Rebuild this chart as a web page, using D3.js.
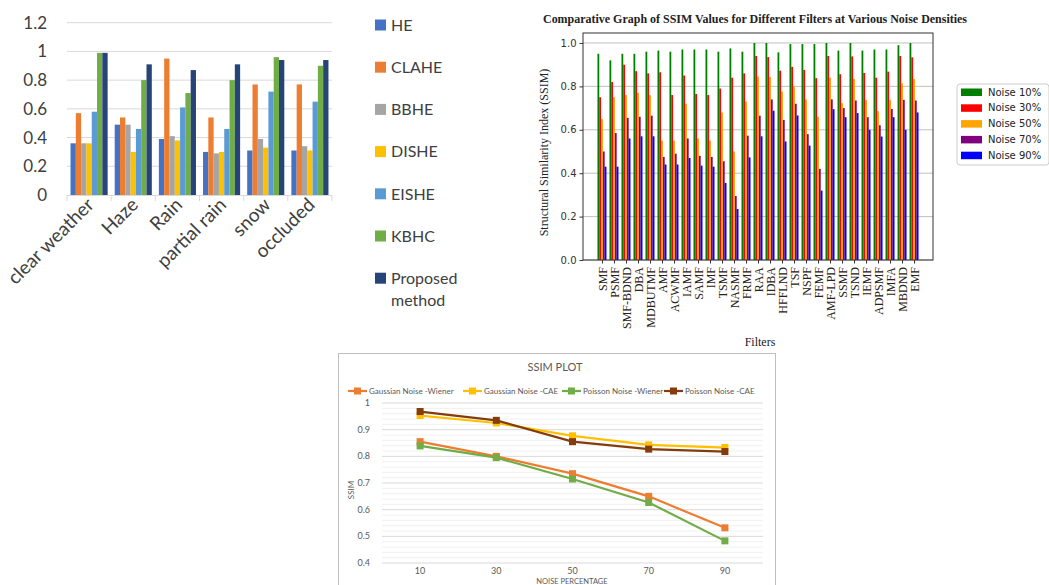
<!DOCTYPE html>
<html>
<head>
<meta charset="utf-8">
<script src="https://cdn.jsdelivr.net/npm/d3@7"></script>
<style>
  html, body { margin: 0; padding: 0; background: #fff; }
  svg { display: block; }
</style>
</head>
<body>
<svg id="chart" width="1049" height="585"></svg>
<script>
// ---- chart 1: weather conditions ----
var conditions = ["clear weather", "Haze", "Rain", "partial rain", "snow", "occluded"];
var methods = ["HE", "CLAHE", "BBHE", "DISHE", "EISHE", "KBHC", "Proposed method"];
var heVals = [0.36, 0.49, 0.39, 0.30, 0.31, 0.31];
var claheVals = [0.57, 0.54, 0.95, 0.54, 0.77, 0.77];
var bbheVals = [0.36, 0.49, 0.41, 0.29, 0.39, 0.34];
var disheVals = [0.36, 0.30, 0.38, 0.30, 0.33, 0.31];
var eisheVals = [0.58, 0.46, 0.61, 0.46, 0.72, 0.65];
var kbhcVals = [0.99, 0.80, 0.71, 0.80, 0.96, 0.90];
var proposedVals = [0.99, 0.91, 0.87, 0.91, 0.94, 0.94];
var weatherTicks = [0, 0.2, 0.4, 0.6, 0.8, 1, 1.2];

// ---- chart 2: filters at noise densities ----
var filters = ["SMF", "PSMF", "SMF-BDND", "DBA", "MDBUTMF", "AMF", "ACWMF", "IAMF", "SAMF", "IMF",
  "TSMF", "NASMF", "FRMF", "RAA", "IDBA", "HFFLND", "TSF", "NSPF", "FEMF", "AMF-LPD",
  "SSMF", "TSND", "IEMF", "ADPSMF", "IMFA", "MBDND", "EMF"];
var noiseNames = ["Noise 10%", "Noise 30%", "Noise 50%", "Noise 70%", "Noise 90%"];
var noise10 = [0.95, 0.92, 0.95, 0.95, 0.96, 0.965, 0.96, 0.97, 0.97, 0.97, 0.96, 0.975, 0.96, 1.0, 1.0, 0.957, 0.995, 0.995, 0.995, 1.0, 0.965, 1.0, 0.965, 0.97, 0.97, 0.99, 1.0];
var noise30 = [0.75, 0.82, 0.90, 0.87, 0.86, 0.865, 0.76, 0.85, 0.765, 0.76, 0.79, 0.84, 0.86, 0.94, 0.935, 0.872, 0.89, 0.876, 0.838, 0.94, 0.856, 0.938, 0.862, 0.84, 0.868, 0.94, 0.934];
var noise50 = [0.65, 0.75, 0.76, 0.77, 0.76, 0.55, 0.55, 0.72, 0.56, 0.55, 0.68, 0.50, 0.73, 0.845, 0.843, 0.776, 0.80, 0.74, 0.66, 0.84, 0.723, 0.835, 0.737, 0.686, 0.738, 0.814, 0.835];
var noise70 = [0.50, 0.585, 0.655, 0.66, 0.665, 0.475, 0.49, 0.56, 0.48, 0.475, 0.455, 0.295, 0.573, 0.665, 0.74, 0.645, 0.72, 0.58, 0.42, 0.74, 0.70, 0.735, 0.658, 0.621, 0.696, 0.738, 0.735];
var noise90 = [0.43, 0.43, 0.56, 0.57, 0.57, 0.44, 0.44, 0.47, 0.435, 0.43, 0.355, 0.235, 0.473, 0.57, 0.688, 0.546, 0.666, 0.527, 0.32, 0.695, 0.658, 0.677, 0.60, 0.569, 0.658, 0.60, 0.68];
var filterTicks = [0, 0.2, 0.4, 0.6, 0.8, 1.0];

// ---- chart 3: SSIM plot ----
var noisePct = ["10", "30", "50", "70", "90"];
var lineNames = ["Gaussian Noise -Wiener", "Gaussian Noise -CAE", "Poisson Noise -Wiener", "Poisson Noise -CAE"];
var gaussWiener = [0.855, 0.80, 0.735, 0.65, 0.532];
var gaussCAE = [0.953, 0.925, 0.877, 0.843, 0.833];
var poissonWiener = [0.839, 0.795, 0.715, 0.627, 0.483];
var poissonCAE = [0.968, 0.935, 0.855, 0.827, 0.818];
var ssimTicks = [0.4, 0.5, 0.6, 0.7, 0.8, 0.9, 1];

var svg = d3.select("#chart");

function drawWeather() {
    var colors = ["#4472C4", "#ED7D31", "#A5A5A5", "#FFC000", "#5B9BD5", "#70AD47", "#264478"];
    var series = [heVals, claheVals, bbheVals, disheVals, eisheVals, kbhcVals, proposedVals];
    var g = svg.append("g").attr("font-family", "Lato, 'Open Sans', sans-serif");
    var x0 = d3.scaleBand().domain(conditions).range([67, 332]).paddingInner(0.16).paddingOuter(0.08);
    var x1 = d3.scaleBand().domain(d3.range(methods.length)).range([0, x0.bandwidth()]);
    var y = d3.scaleLinear().domain([0, 1.2]).range([195, 22.7]);

    g.selectAll("line.grid").data(weatherTicks.slice(1)).enter().append("line")
        .attr("x1", 67).attr("x2", 332)
        .attr("y1", function (d) { return y(d); }).attr("y2", function (d) { return y(d); })
        .attr("stroke", "#d9d9d9").attr("stroke-width", 1);
    g.selectAll("text.ytick").data(weatherTicks).enter().append("text")
        .attr("x", 47).attr("y", function (d) { return y(d); }).attr("dy", "0.35em")
        .attr("text-anchor", "end").attr("font-size", 17).attr("fill", "#404040")
        .text(function (d) { return String(+d.toFixed(1)); });

    var groups = g.selectAll("g.cat").data(conditions).enter().append("g")
        .attr("transform", function (d) { return "translate(" + x0(d) + ",0)"; });
    groups.selectAll("rect").data(function (d, i) {
        return series.map(function (s, k) { return { k: k, v: s[i] }; });
    }).enter().append("rect")
        .attr("x", function (d) { return x1(d.k); })
        .attr("width", x1.bandwidth())
        .attr("y", function (d) { return y(d.v); })
        .attr("height", function (d) { return y(0) - y(d.v); })
        .attr("fill", function (d) { return colors[d.k]; });

    // baseline with ticks between categories
    g.append("line").attr("x1", 67).attr("x2", 332).attr("y1", y(0) + 0.5).attr("y2", y(0) + 0.5)
        .attr("stroke", "#d9d9d9");
    var step = (332 - 67) / conditions.length;
    g.selectAll("line.xt").data(d3.range(conditions.length + 1)).enter().append("line")
        .attr("x1", function (d) { return 67 + d * step; }).attr("x2", function (d) { return 67 + d * step; })
        .attr("y1", y(0)).attr("y2", y(0) + 6).attr("stroke", "#d9d9d9");
    g.selectAll("text.xl").data(conditions).enter().append("text")
        .attr("transform", function (d) {
            return "translate(" + (x0(d) + x0.bandwidth() / 2 + 6) + ",206) rotate(-45)";
        })
        .attr("text-anchor", "end").attr("font-size", 19).attr("fill", "#404040")
        .text(function (d) { return d; });

    // legend
    var leg = g.selectAll("g.leg").data(methods).enter().append("g")
        .attr("transform", function (d, i) { return "translate(375," + (25 + i * 42.2) + ")"; });
    leg.append("rect").attr("x", 0).attr("y", -5.5).attr("width", 11).attr("height", 11)
        .attr("fill", function (d, i) { return colors[i]; });
    leg.append("text").attr("x", 16).attr("dy", "0.36em").attr("font-size", 16).attr("fill", "#404040")
        .each(function (d) {
            var t = d3.select(this);
            var parts = d.split(" ");
            if (parts.length > 1) {
                t.append("tspan").attr("x", 16).text(parts[0]);
                t.append("tspan").attr("x", 16).attr("dy", 22).text(parts[1]);
            } else {
                t.text(d);
            }
        });
}

function drawFilters() {
    var colors = ["#008000", "#ff0000", "#ffa500", "#800080", "#0000ff"];
    var series = [noise10, noise30, noise50, noise70, noise90];
    var g = svg.append("g");
    var left = 583, right = 933, top = 33, bottom = 260;
    var x = d3.scalePoint().domain(filters).range([left, right]).padding(1.58);
    var y = d3.scaleLinear().domain([0, 1.046]).range([bottom, top]);
    var bw = x.step() * 0.15;

    g.selectAll("line.grid").data(filterTicks).enter().append("line")
        .attr("x1", left).attr("x2", right)
        .attr("y1", function (d) { return y(d); }).attr("y2", function (d) { return y(d); })
        .attr("stroke", "#b0b0b0").attr("stroke-width", 0.8);

    var groups = g.selectAll("g.f").data(filters).enter().append("g")
        .attr("transform", function (d) { return "translate(" + x(d) + ",0)"; });
    groups.selectAll("rect").data(function (d, i) {
        return series.map(function (s, k) { return { k: k, v: s[i] }; });
    }).enter().append("rect")
        .attr("x", function (d) { return (d.k - 2.5) * bw; })
        .attr("width", bw)
        .attr("y", function (d) { return y(d.v); })
        .attr("height", function (d) { return y(0) - y(d.v); })
        .attr("fill", function (d) { return colors[d.k]; });

    g.append("rect").attr("x", left).attr("y", top).attr("width", right - left).attr("height", bottom - top)
        .attr("fill", "none").attr("stroke", "#333").attr("stroke-width", 1);

    var yAxis = d3.axisLeft(y).tickValues(filterTicks).tickFormat(d3.format(".1f")).tickSize(3.5);
    g.append("g").attr("transform", "translate(" + left + ",0)").call(yAxis)
        .call(function (a) { a.select(".domain").remove(); })
        .call(function (a) {
            a.selectAll("text").attr("font-family", "'DejaVu Sans', sans-serif").attr("font-size", 10).attr("fill", "#333");
            a.selectAll("line").attr("stroke", "#333");
        });

    var xAxis = d3.axisBottom(x).tickSize(3.5);
    g.append("g").attr("transform", "translate(0," + bottom + ")").call(xAxis)
        .call(function (a) { a.select(".domain").remove(); })
        .call(function (a) {
            a.selectAll("line").attr("stroke", "#333");
            a.selectAll("text").attr("font-family", "'Liberation Serif', serif").attr("font-size", 12)
                .attr("fill", "#222").attr("text-anchor", "end")
                .attr("transform", "rotate(-90)").attr("x", -7).attr("y", 0).attr("dy", "0.35em");
        });

    g.append("text").attr("x", (left + right) / 2 + 2).attr("y", 346).attr("text-anchor", "middle")
        .attr("font-family", "'Liberation Serif', serif").attr("font-size", 12).attr("fill", "#222").text("Filters");
    g.append("text").attr("transform", "translate(548," + ((top + bottom) / 2 + 6) + ") rotate(-90)")
        .attr("text-anchor", "middle").attr("font-family", "'Liberation Serif', serif").attr("font-size", 12)
        .attr("fill", "#222").text("Structural Similarity Index (SSIM)");
    g.append("text").attr("x", 543).attr("y", 23)
        .attr("textLength", 424).attr("lengthAdjust", "spacingAndGlyphs")
        .attr("font-family", "'Liberation Serif', serif").attr("font-size", 12).attr("font-weight", "bold")
        .attr("fill", "#222").text("Comparative Graph of SSIM Values for Different Filters at Various Noise Densities");

    // legend
    var lg = g.append("g").attr("transform", "translate(957,84)");
    lg.append("rect").attr("x", 0).attr("y", 0).attr("width", 92).attr("height", 81).attr("rx", 3)
        .attr("fill", "#fff").attr("stroke", "#cccccc");
    var items = lg.selectAll("g.li").data(noiseNames).enter().append("g")
        .attr("transform", function (d, i) { return "translate(0," + (8 + i * 15.8) + ")"; });
    items.append("rect").attr("x", 4).attr("y", -3.5).attr("width", 21).attr("height", 7.5)
        .attr("fill", function (d, i) { return colors[i]; });
    items.append("text").attr("x", 31).attr("dy", "0.35em")
        .attr("font-family", "'DejaVu Sans', sans-serif").attr("font-size", 10).attr("fill", "#222")
        .text(function (d) { return d; });
}

function drawSsim() {
    var colors = ["#ED7D31", "#FFC000", "#70AD47", "#843C0C"];
    var series = [gaussWiener, gaussCAE, poissonWiener, poissonCAE];
    var g = svg.append("g").attr("font-family", "Lato, 'Open Sans', sans-serif");
    var left = 382, right = 763;
    var x = d3.scaleBand().domain(noisePct).range([left, right]);
    var y = d3.scaleLinear().domain([0.4, 1]).range([563, 403]);

    g.append("rect").attr("x", 338.5).attr("y", 353.5).attr("width", 437).attr("height", 240)
        .attr("fill", "#fff").attr("stroke", "#bfbfbf");

    // minor gridlines
    g.selectAll("line.minor").data(d3.range(0.42, 1.0, 0.02).filter(function (v) {
        return Math.abs(v * 10 - Math.round(v * 10)) > 0.01;
    })).enter().append("line")
        .attr("x1", left).attr("x2", right)
        .attr("y1", function (d) { return y(d); }).attr("y2", function (d) { return y(d); })
        .attr("stroke", "#f0f0f0");
    g.selectAll("line.major").data(ssimTicks).enter().append("line")
        .attr("x1", left).attr("x2", right)
        .attr("y1", function (d) { return y(d); }).attr("y2", function (d) { return y(d); })
        .attr("stroke", "#d9d9d9");

    g.selectAll("text.yt").data(ssimTicks).enter().append("text")
        .attr("x", 370).attr("y", function (d) { return y(d); }).attr("dy", "0.35em")
        .attr("text-anchor", "end").attr("font-size", 9).attr("fill", "#595959")
        .text(function (d) { return String(+d.toFixed(1)); });
    g.selectAll("text.xt").data(noisePct).enter().append("text")
        .attr("x", function (d) { return x(d) + x.bandwidth() / 2; }).attr("y", 574)
        .attr("text-anchor", "middle").attr("font-size", 9).attr("fill", "#595959")
        .text(function (d) { return d; });

    var line = d3.line()
        .x(function (d, i) { return x(noisePct[i]) + x.bandwidth() / 2; })
        .y(function (d) { return y(d); });
    series.forEach(function (s, k) {
        g.append("path").datum(s).attr("d", line).attr("fill", "none")
            .attr("stroke", colors[k]).attr("stroke-width", 2.2);
        g.selectAll("rect.m" + k).data(s).enter().append("rect")
            .attr("x", function (d, i) { return x(noisePct[i]) + x.bandwidth() / 2 - 3.5; })
            .attr("y", function (d) { return y(d) - 3.5; })
            .attr("width", 7).attr("height", 7).attr("fill", colors[k]);
    });

    g.append("text").attr("x", 555).attr("y", 371).attr("text-anchor", "middle")
        .attr("font-size", 11).attr("fill", "#595959").text("SSIM PLOT");
    g.append("text").attr("transform", "translate(354,490) rotate(-90)").attr("text-anchor", "middle")
        .attr("font-size", 8).attr("fill", "#595959").text("SSIM");
    g.append("text").attr("x", 572).attr("y", 584).attr("text-anchor", "middle")
        .attr("font-size", 7.5).attr("fill", "#595959").text("NOISE PERCENTAGE");

    // legend row
    var legX = [348, 463, 562, 664];
    var items = g.selectAll("g.li").data(lineNames).enter().append("g")
        .attr("transform", function (d, i) { return "translate(" + legX[i] + ",391)"; });
    items.append("line").attr("x1", 0).attr("x2", 19).attr("y1", 0).attr("y2", 0)
        .attr("stroke", function (d, i) { return colors[i]; }).attr("stroke-width", 2.2);
    items.append("rect").attr("x", 6).attr("y", -3.5).attr("width", 7).attr("height", 7)
        .attr("fill", function (d, i) { return colors[i]; });
    items.append("text").attr("x", 21).attr("dy", "0.35em").attr("font-size", 8).attr("fill", "#595959")
        .text(function (d) { return d; });
}

drawWeather();
drawFilters();
drawSsim();
</script>
</body>
</html>
